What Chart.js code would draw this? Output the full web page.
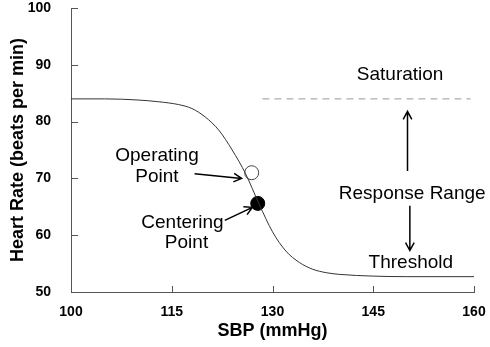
<!DOCTYPE html>
<html>
<head>
<meta charset="utf-8">
<script src="https://cdn.jsdelivr.net/npm/chart.js@4/dist/chart.umd.min.js"></script>
<style>
  body { margin: 0; background: #fff; }
  #wrap { width: 490px; height: 347px; }
</style>
</head>
<body>
<div id="wrap"><canvas id="c"></canvas></div>
<script>
// values
const sbp = [100, 105, 110, 113, 116, 118, 120, 122, 124, 126, 128, 130, 132, 134, 136, 138, 140, 145, 150, 160];
const heartRate = [84.0, 84.0, 83.8, 83.5, 83.0, 82.3, 80.8, 78.5, 75.0, 70.8, 65.5, 60.6, 57.2, 55.2, 54.0, 53.4, 53.1, 52.8, 52.7, 52.7];
const operatingPoint = { x: 126.9, y: 71.0 };
const centeringPoint = { x: 127.8, y: 65.6 };
const saturationX = [128.5, 159.5];
const saturationY = 84;
const xTicks = [100, 115, 130, 145, 160];
const yTicks = [50, 60, 70, 80, 90, 100];

// labels + arrows in data coordinates
const labels = [
  { text: 'Saturation', x: 149.0, y: 88.3 },
  { text: 'Response Range', x: 150.8, y: 67.3 },
  { text: 'Threshold', x: 150.6, y: 55.1 },
  { text: 'Operating', x: 112.8, y: 74.0 },
  { text: 'Point', x: 112.8, y: 70.3 },
  { text: 'Centering', x: 116.6, y: 62.2 },
  { text: 'Point', x: 117.2, y: 58.6 }
];
const arrows = [
  { from: [150.1, 71.3], to: [150.1, 81.8] },
  { from: [150.45, 65.2], to: [150.45, 57.3] },
  { from: [118.4, 70.8], to: [125.4, 70.0] },
  { from: [122.9, 62.6], to: [127.0, 64.9] }
];

const annotate = {
  id: 'annotate',
  afterDatasetsDraw(chart) {
    const { ctx, scales: { x, y } } = chart;
    ctx.save();
    ctx.fillStyle = '#000';
    ctx.font = '19px "Liberation Sans", Arial, sans-serif';
    ctx.textAlign = 'center';
    ctx.textBaseline = 'middle';
    labels.forEach(l => ctx.fillText(l.text, x.getPixelForValue(l.x), y.getPixelForValue(l.y)));

    ctx.strokeStyle = '#000';
    ctx.lineWidth = 1.5;
    arrows.forEach(a => {
      const x1 = x.getPixelForValue(a.from[0]), y1 = y.getPixelForValue(a.from[1]);
      const x2 = x.getPixelForValue(a.to[0]), y2 = y.getPixelForValue(a.to[1]);
      const ang = Math.atan2(y2 - y1, x2 - x1);
      const h = 9;
      ctx.beginPath();
      ctx.moveTo(x1, y1);
      ctx.lineTo(x2, y2);
      ctx.moveTo(x2 - h * Math.cos(ang - 0.5), y2 - h * Math.sin(ang - 0.5));
      ctx.lineTo(x2, y2);
      ctx.lineTo(x2 - h * Math.cos(ang + 0.5), y2 - h * Math.sin(ang + 0.5));
      ctx.stroke();
    });

    // inward tick marks
    ctx.strokeStyle = '#555';
    ctx.lineWidth = 1;
    ctx.beginPath();
    xTicks.forEach(v => {
      const px = Math.round(x.getPixelForValue(v)) + 0.5;
      ctx.moveTo(px, y.bottom);
      ctx.lineTo(px, y.bottom - 6);
    });
    yTicks.forEach(v => {
      const py = Math.round(y.getPixelForValue(v)) + 0.5;
      ctx.moveTo(x.left, py);
      ctx.lineTo(x.left + 7, py);
    });
    ctx.stroke();
    ctx.restore();
  }
};

new Chart(document.getElementById('c'), {
  type: 'scatter',
  data: {
    datasets: [
      {
        data: sbp.map((v, i) => ({ x: v, y: heartRate[i] })),
        showLine: true,
        borderColor: '#333',
        borderWidth: 1,
        pointRadius: 0,
        cubicInterpolationMode: 'monotone'
      },
      {
        data: saturationX.map(v => ({ x: v, y: saturationY })),
        showLine: true,
        borderColor: '#999',
        borderWidth: 1,
        borderDash: [7, 5],
        pointRadius: 0
      },
      {
        data: [operatingPoint],
        pointRadius: 7,
        backgroundColor: '#fff',
        borderColor: '#444',
        borderWidth: 1
      },
      {
        data: [centeringPoint],
        pointRadius: 7,
        backgroundColor: '#000',
        borderColor: '#000',
        borderWidth: 1
      }
    ]
  },
  options: {
    responsive: true,
    maintainAspectRatio: false,
    animation: false,
    layout: { padding: { top: 6, right: 16, left: 0, bottom: 0 } },
    plugins: { legend: { display: false }, tooltip: { enabled: false } },
    scales: {
      x: {
        min: 100, max: 160,
        afterBuildTicks: s => { s.ticks = xTicks.map(v => ({ value: v })); },
        afterFit: s => { s.height = 55; s.paddingLeft = 0; s.paddingRight = 0; },
        grid: { display: false },
        border: { color: '#555', width: 1 },
        ticks: {
          color: '#000', padding: 4,
          font: { family: '"Liberation Sans", Arial, sans-serif', size: 14, weight: 'bold' }
        },
        title: {
          display: true, text: 'SBP (mmHg)', color: '#000',
          padding: { top: 0, bottom: 5 },
          font: { family: '"Liberation Sans", Arial, sans-serif', size: 18, weight: 'bold' }
        }
      },
      y: {
        min: 50, max: 100,
        afterBuildTicks: s => { s.ticks = yTicks.map(v => ({ value: v })); },
        afterFit: s => { s.width = 71; s.paddingTop = 0; s.paddingBottom = 0; },
        grid: { display: false },
        border: { color: '#555', width: 1 },
        ticks: {
          color: '#000', padding: 12,
          font: { family: '"Liberation Sans", Arial, sans-serif', size: 14, weight: 'bold' }
        },
        title: {
          display: true, text: 'Heart Rate (beats per min)', color: '#000',
          padding: { top: 7, bottom: 0 },
          font: { family: '"Liberation Sans", Arial, sans-serif', size: 18, weight: 'bold' }
        }
      }
    }
  },
  plugins: [annotate]
});
</script>
</body>
</html>
